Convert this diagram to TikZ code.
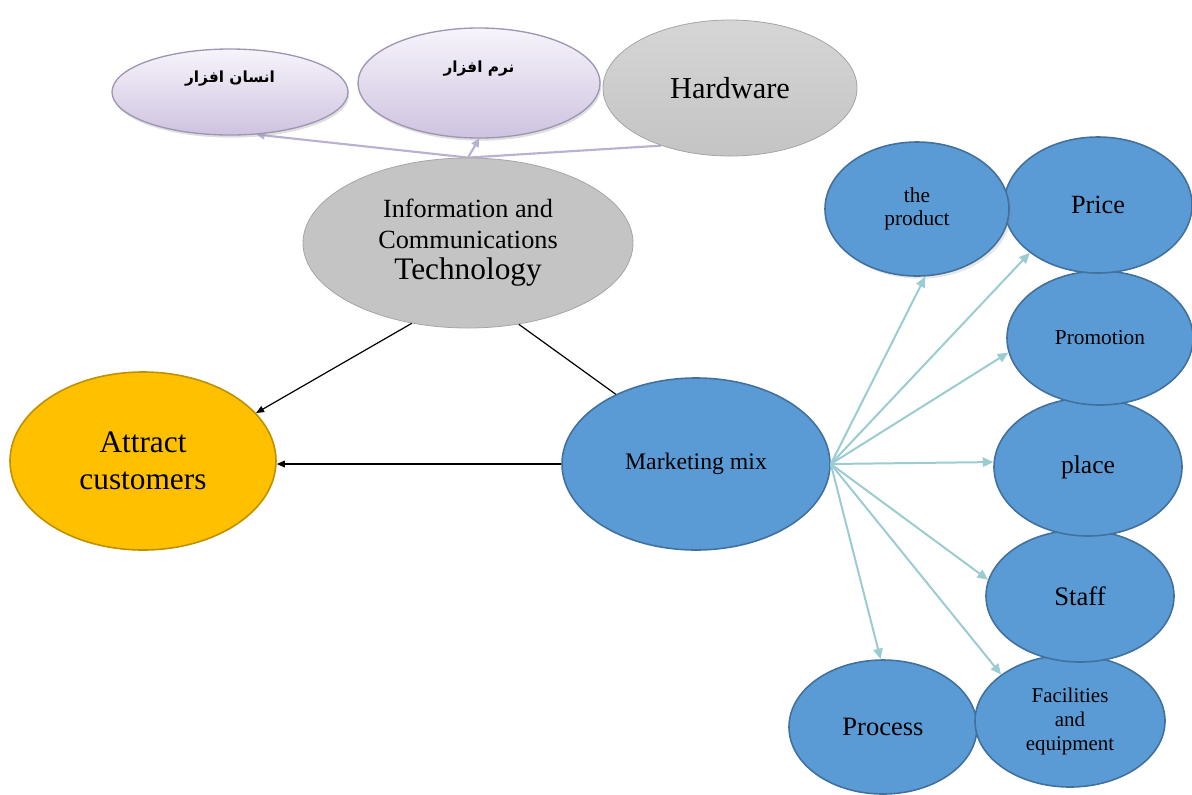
\documentclass[tikz,border=0pt]{standalone}
\usepackage{fontspec}
\setmainfont{Liberation Serif}
\newfontfamily\arabicfont[Script=Arabic]{DejaVu Sans}
\TeXXeTstate=1
\usetikzlibrary{shapes.geometric,arrows.meta,backgrounds,shadows}
\definecolor{blueF}{HTML}{5B9BD5}
\definecolor{blueD}{HTML}{41719C}
\definecolor{goldF}{HTML}{FFC000}
\definecolor{goldD}{HTML}{BF9000}
\definecolor{grayF}{HTML}{C4C4C4}
\definecolor{grayD}{HTML}{A6A6A6}
\definecolor{lavTop}{HTML}{F7F4FB}
\definecolor{lavBot}{HTML}{CEC3E0}
\definecolor{lavD}{HTML}{9F96B3}
\definecolor{lavLine}{HTML}{B9B0D2}
\definecolor{tealL}{HTML}{9ACCD2}
\tikzset{
  ell/.style={ellipse, inner sep=0pt, align=center},
  blueell/.style={ell, draw=blueD, fill=blueF, line width=1.2pt},
  grayell/.style={ell, draw=grayD, fill=grayF, line width=0.6pt},
  lavell/.style={ell, draw=lavD, top color=lavTop, bottom color=lavBot, line width=1pt,
    drop shadow={opacity=0.25, shadow xshift=1pt, shadow yshift=-2pt}},
  goldell/.style={ell, draw=goldD, fill=goldF, line width=1.2pt},
  tealarrow/.style={draw=tealL, line width=1.5pt, -{Triangle[length=8pt,width=7pt]}},
  blackarrow/.style={draw=black, line width=0.9pt, -{Triangle[length=6pt,width=5pt]}},
  lavarrow/.style={draw=lavLine, line width=1.6pt, -{Triangle[length=6pt,width=6pt]}},
  lavline/.style={draw=lavLine, line width=1.6pt},
  fs/.style 2 args={font=\fontsize{#1}{#2}\selectfont},
}
\begin{document}
\begin{tikzpicture}[x=0.75pt, y=-0.75pt]
\useasboundingbox (0,0) rectangle (1192,794);
% top ellipses
\node[lavell, minimum width=177pt, minimum height=64.5pt] (ins) at (230,92)
  {\raisebox{7.5pt}[0pt][0pt]{\fontsize{11.5}{13}\arabicfont\bfseries\beginR انسان افزار\endR}};
\node[lavell, minimum width=181.5pt, minimum height=82.5pt] (nrm) at (479,83)
  {\raisebox{8pt}[0pt][0pt]{\fontsize{11.5}{13}\arabicfont\bfseries\beginR نرم افزار\endR}};
\node[grayell, top color=grayF!70!white, bottom color=grayF, minimum width=190.5pt, minimum height=102pt,
  fs={22.8}{26}] (hw) at (730,88) {Hardware};
\node[grayell, minimum width=247.5pt, minimum height=127.5pt, fs={19.7}{23.25}] (ict) at (468,243)
  {Information and\\ Communications\\ {\fontsize{23.5}{24}\selectfont Technology}};
% main ellipses
\node[goldell, minimum width=199.5pt, minimum height=133.5pt, fs={23.5}{27.75}] (att) at (143,461)
  {Attract\\ customers};
\node[blueell, minimum width=201pt, minimum height=129pt, fs={17.8}{20}] (mm) at (696,464)
  {Marketing mix};
% right column
\node[blueell, minimum width=141pt, minimum height=100.5pt, fs={19.9}{22}] (proc) at (883,727)
  {Process};
\node[blueell, minimum width=142.5pt, minimum height=99pt, fs={15.7}{18}] (fac) at (1070,721)
  {Facilities\\ and\\ equipment};
\node[blueell, minimum width=141pt, minimum height=99pt, fs={20}{22}] (staff) at (1080,596)
  {Staff};
\node[blueell, minimum width=141pt, minimum height=103.5pt, fs={19.2}{22}] (place) at (1088,467)
  {place};
\node[blueell, minimum width=139.5pt, minimum height=100.5pt, fs={16}{18}] (promo) at (1100,338)
  {Promotion};
\node[blueell, minimum width=141pt, minimum height=102pt, fs={19.7}{22}] (price) at (1098,205)
  {Price};
\node[blueell, minimum width=138pt, minimum height=100.5pt, fs={16}{17.25},
  drop shadow={opacity=0.2, shadow xshift=2pt, shadow yshift=-2pt}] (prod) at (917,209)
  {the\\ product};
% connectors
\begin{scope}[on background layer]
  \draw[lavarrow] (ict.north) -- (ins.302);
  \draw[lavarrow] (ict.north) -- (nrm.south);
  \draw[lavline] (ict.north) -- (hw.220);
\end{scope}
\draw[blackarrow] (ict.235) -- (att.23);
\draw[blackarrow] (mm.west) -- (att.east |- mm.west);
\draw[draw=black, line width=0.9pt] (ict.302) -- (mm.139);
\draw[tealarrow] (mm.east) -- (prod.277);
\draw[tealarrow] (mm.east) -- (price.215);
\draw[tealarrow] (mm.east) -- (promo.189);
\draw[tealarrow] (mm.east) -- (place.177);
\draw[tealarrow] (mm.east) -- (staff.170);
\draw[tealarrow] (mm.east) -- (fac.146);
\draw[tealarrow] (mm.east) -- (proc.92);
\end{tikzpicture}
\end{document}
